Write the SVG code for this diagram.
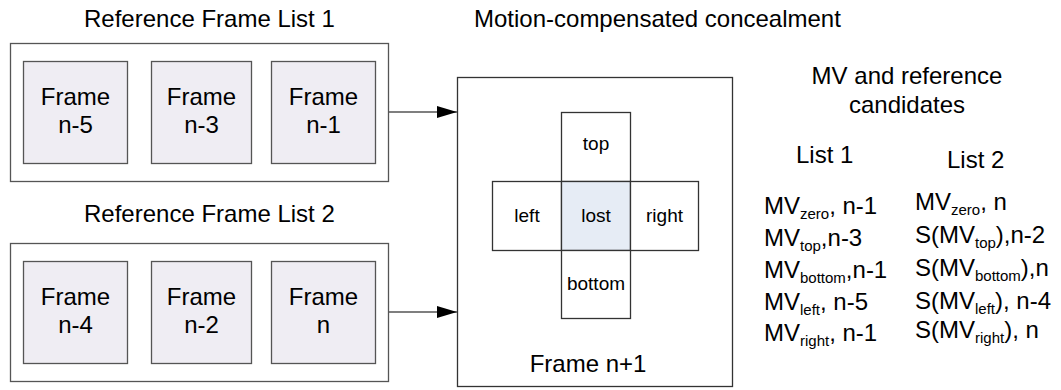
<svg xmlns="http://www.w3.org/2000/svg" width="1061" height="390" viewBox="0 0 1061 390">
  <defs>
    <marker id="arrow" markerWidth="20" markerHeight="12" refX="20" refY="6" orient="auto" markerUnits="userSpaceOnUse">
      <path d="M0,0 L20,6 L0,12 Z" fill="#000"/>
    </marker>
    <style>
      text { font-family: "Liberation Sans", Arial, sans-serif; fill: #000; }
      .title { font-size: 24px; }
      .label { font-size: 24px; text-anchor: middle; }
      .cell-label { font-size: 19px; text-anchor: middle; }
      .cand { font-size: 24px; }
      .sub { font-size: 15px; }
      .group-box { fill: #fff; stroke: #555; stroke-width: 1.3; }
      .frame { fill: #EFEDF3; stroke: #555; stroke-width: 1.3; }
      .main-box { fill: #fff; stroke: #333; stroke-width: 1.3; }
      .cell { fill: #fff; stroke: #333; stroke-width: 1.3; }
      .cell-lost { fill: #E6ECF5; stroke: #333; stroke-width: 1.3; }
      .conn { stroke: #555; stroke-width: 1.5; fill: none; }
    </style>
  </defs>

  <!-- headings -->
  <text class="title" x="84" y="27">Reference Frame List 1</text>
  <text class="title" x="84" y="222">Reference Frame List 2</text>
  <text class="title" x="474" y="27">Motion-compensated concealment</text>

  <!-- reference list 1 -->
  <g id="list1">
    <rect class="group-box" x="10.5" y="43.5" width="378" height="138"/>
  </g>
  <g id="frame-n-5">
    <rect class="frame" x="23.5" y="61.5" width="104" height="102"/>
    <text class="label" x="75.5" y="105">Frame</text>
    <text class="label" x="75.5" y="133">n-5</text>
  </g>
  <g id="frame-n-3">
    <rect class="frame" x="151.5" y="61.5" width="100" height="102"/>
    <text class="label" x="201.5" y="105">Frame</text>
    <text class="label" x="201.5" y="133">n-3</text>
  </g>
  <g id="frame-n-1">
    <rect class="frame" x="271.5" y="61.5" width="104" height="102"/>
    <text class="label" x="323.5" y="105">Frame</text>
    <text class="label" x="323.5" y="133">n-1</text>
  </g>

  <!-- reference list 2 -->
  <g id="list2">
    <rect class="group-box" x="10.5" y="243.5" width="378" height="138"/>
  </g>
  <g id="frame-n-4">
    <rect class="frame" x="23.5" y="261.5" width="104" height="102"/>
    <text class="label" x="75.5" y="305">Frame</text>
    <text class="label" x="75.5" y="333">n-4</text>
  </g>
  <g id="frame-n-2">
    <rect class="frame" x="151.5" y="261.5" width="100" height="102"/>
    <text class="label" x="201.5" y="305">Frame</text>
    <text class="label" x="201.5" y="333">n-2</text>
  </g>
  <g id="frame-n">
    <rect class="frame" x="271.5" y="261.5" width="104" height="102"/>
    <text class="label" x="323.5" y="305">Frame</text>
    <text class="label" x="323.5" y="333">n</text>
  </g>

  <!-- current frame with lost block and its neighbours -->
  <g id="frame-n-plus-1">
    <rect class="main-box" x="457.5" y="77.5" width="275" height="309"/>
    <text class="label" x="588" y="372">Frame n+1</text>
  </g>
  <g id="block-top">
    <rect class="cell" x="561.5" y="112.5" width="69" height="69"/>
    <text class="cell-label" x="596" y="150">top</text>
  </g>
  <g id="block-left">
    <rect class="cell" x="492.5" y="181.5" width="69" height="69"/>
    <text class="cell-label" x="527" y="222">left</text>
  </g>
  <g id="block-lost">
    <rect class="cell-lost" x="561.5" y="181.5" width="69" height="69"/>
    <text class="cell-label" x="596" y="222">lost</text>
  </g>
  <g id="block-right">
    <rect class="cell" x="630.5" y="181.5" width="68" height="69"/>
    <text class="cell-label" x="664.5" y="222">right</text>
  </g>
  <g id="block-bottom">
    <rect class="cell" x="561.5" y="250.5" width="69" height="68"/>
    <text class="cell-label" x="596" y="290">bottom</text>
  </g>

  <!-- connectors -->
  <g id="connectors">
    <line class="conn" x1="388.5" y1="112" x2="457" y2="112" marker-end="url(#arrow)"/>
    <line class="conn" x1="388.5" y1="312" x2="457" y2="312" marker-end="url(#arrow)"/>
  </g>

  <!-- candidate table -->
  <g id="candidates">
    <text class="label" x="907" y="84">MV and reference</text>
    <text class="label" x="907" y="113">candidates</text>
    <text class="title" x="796" y="163">List 1</text>
    <text class="title" x="947" y="168">List 2</text>

    <text class="cand" x="764" y="214">MV<tspan class="sub" dy="5">zero</tspan><tspan dy="-5">, n-1</tspan></text>
    <text class="cand" x="764" y="246">MV<tspan class="sub" dy="5">top</tspan><tspan dy="-5">,n-3</tspan></text>
    <text class="cand" x="764" y="278">MV<tspan class="sub" dy="5">bottom</tspan><tspan dy="-5">,n-1</tspan></text>
    <text class="cand" x="764" y="310">MV<tspan class="sub" dy="5">left</tspan><tspan dy="-5">, n-5</tspan></text>
    <text class="cand" x="764" y="341">MV<tspan class="sub" dy="5">right</tspan><tspan dy="-5">, n-1</tspan></text>

    <text class="cand" x="915" y="210">MV<tspan class="sub" dy="5">zero</tspan><tspan dy="-5">, n</tspan></text>
    <text class="cand" x="915" y="243">S(MV<tspan class="sub" dy="5">top</tspan><tspan dy="-5">),n-2</tspan></text>
    <text class="cand" x="915" y="276">S(MV<tspan class="sub" dy="5">bottom</tspan><tspan dy="-5">),n</tspan></text>
    <text class="cand" x="915" y="309">S(MV<tspan class="sub" dy="5">left</tspan><tspan dy="-5">), n-4</tspan></text>
    <text class="cand" x="915" y="338">S(MV<tspan class="sub" dy="5">right</tspan><tspan dy="-5">), n</tspan></text>
  </g>
</svg>
